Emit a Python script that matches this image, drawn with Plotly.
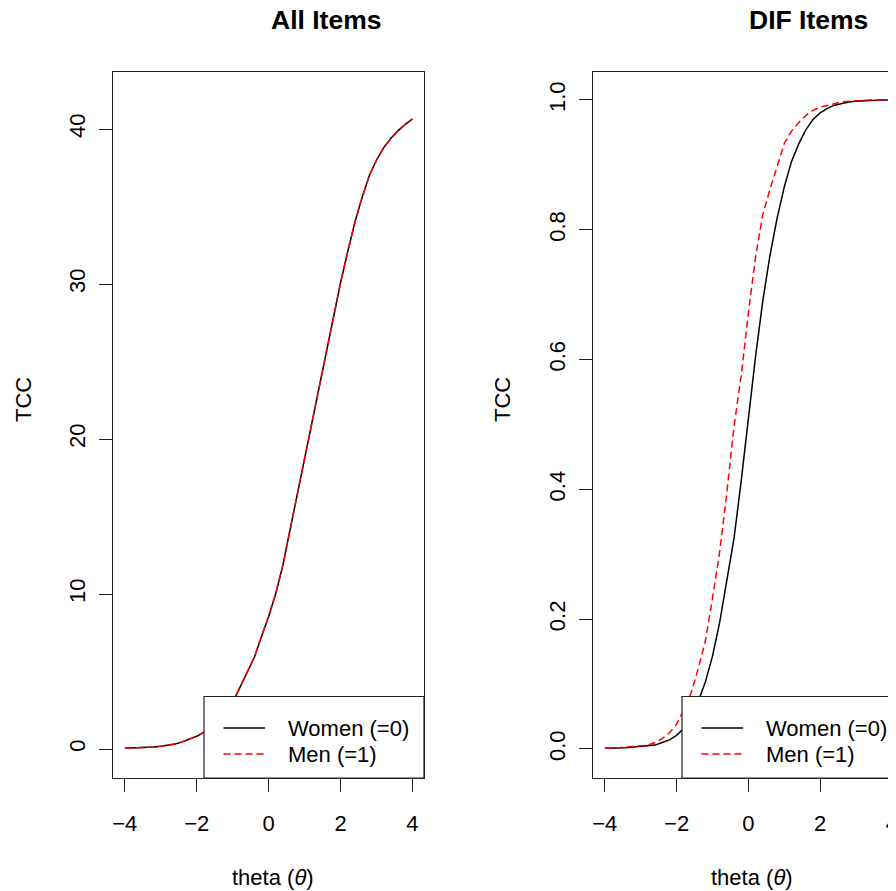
import plotly.graph_objects as go

# ---------------- data ----------------
theta = [-4.0, -3.8, -3.6, -3.4, -3.2, -3.0, -2.8, -2.6, -2.4, -2.2, -2.0,
         -1.8, -1.6, -1.4, -1.2, -1.0, -0.8, -0.6, -0.4, -0.2, 0.0,
         0.2, 0.4, 0.6, 0.8, 1.0, 1.2, 1.4, 1.6, 1.8, 2.0,
         2.2, 2.4, 2.6, 2.8, 3.0, 3.2, 3.4, 3.6, 3.8, 4.0]

all_women = [0.05, 0.06, 0.08, 0.10, 0.13, 0.18, 0.24, 0.33, 0.46, 0.62, 0.82,
             1.08, 1.45, 1.90, 2.40, 3.00, 3.95, 4.85, 5.90, 7.25, 8.55,
             10.05, 11.90, 14.20, 16.45, 18.75, 21.05, 23.30, 25.60, 27.90, 30.10,
             32.10, 34.00, 35.60, 37.00, 38.00, 38.80, 39.40, 39.90, 40.30, 40.65]

all_men = [0.05, 0.06, 0.08, 0.10, 0.13, 0.18, 0.24, 0.33, 0.46, 0.63, 0.83,
           1.09, 1.46, 1.91, 2.42, 3.02, 3.96, 4.87, 5.92, 7.27, 8.57,
           10.07, 11.91, 14.20, 16.45, 18.74, 21.04, 23.29, 25.59, 27.89, 30.09,
           32.09, 33.99, 35.59, 36.99, 37.99, 38.79, 39.39, 39.89, 40.29, 40.64]

dif_women = [0.001, 0.001, 0.002, 0.002, 0.003, 0.004, 0.005, 0.006, 0.010, 0.014, 0.021,
             0.032, 0.050, 0.073, 0.103, 0.143, 0.195, 0.257, 0.325, 0.413, 0.510,
             0.605, 0.690, 0.760, 0.818, 0.866, 0.905, 0.932, 0.954, 0.970, 0.980,
             0.987, 0.992, 0.995, 0.997, 0.998, 0.999, 0.999, 0.9995, 1.0, 1.0]

dif_men = [0.001, 0.001, 0.002, 0.003, 0.004, 0.005, 0.006, 0.010, 0.016, 0.025, 0.038,
           0.060, 0.086, 0.123, 0.166, 0.232, 0.304, 0.395, 0.497, 0.575, 0.672,
           0.758, 0.823, 0.862, 0.898, 0.933, 0.952, 0.965, 0.976, 0.984, 0.989,
           0.992, 0.995, 0.997, 0.998, 0.999, 0.999, 1.0, 1.0, 1.0, 1.0]

x_ticks = [-4, -2, 0, 2, 4]
y_ticks_all = [0, 10, 20, 30, 40]
y_ticks_dif = [0.0, 0.2, 0.4, 0.6, 0.8, 1.0]
y_ticktext_dif = ["0.0", "0.2", "0.4", "0.6", "0.8", "1.0"]

panel_titles = ["All Items", "DIF Items"]
legend_labels = ["Women (=0)", "Men (=1)"]
x_title = "theta (<i>θ</i>)"
y_title = "TCC"

# ---------------- layout helpers ----------------
# The page body has an 8px margin, so the figure is sized to end exactly at the window edge
OFF = 8
WIN_W, WIN_H = 896, 891
W, H = WIN_W - OFF, WIN_H - OFF
FONT = "Liberation Sans, Arial, Helvetica, sans-serif"
AX = "#222222"


def px(x):
    return (x - OFF) / W


def py(y):
    return 1 - (y - OFF) / H


BOX_TOP, BOX_BOT = 72, 778
L_LEFT, L_RIGHT = 113.3, 424.0
R_LEFT = 593.3
PX_PER_UNIT = 35.9

fig = go.Figure()

fig.add_trace(go.Scatter(x=theta, y=all_women, mode="lines", xaxis="x", yaxis="y",
                         line=dict(color="black", width=1.5), showlegend=False))
fig.add_trace(go.Scatter(x=theta, y=all_men, mode="lines", xaxis="x", yaxis="y",
                         line=dict(color="#ff0000", width=1.5, dash="7px,4px"), showlegend=False))
fig.add_trace(go.Scatter(x=theta, y=dif_women, mode="lines", xaxis="x2", yaxis="y2",
                         line=dict(color="black", width=1.5), showlegend=False))
fig.add_trace(go.Scatter(x=theta, y=dif_men, mode="lines", xaxis="x2", yaxis="y2",
                         line=dict(color="#ff0000", width=1.5, dash="7px,4px"), showlegend=False))

tickfont = dict(family=FONT, size=22, color="black")
common_x = dict(showgrid=False, zeroline=False, showline=True, linecolor=AX, linewidth=1.2,
                ticks="outside", ticklen=13, tickwidth=1.2, tickcolor=AX,
                tickvals=x_ticks, tickfont=tickfont, automargin=False,
                ticklabelstandoff=12, ticklabeloverflow="allow")
common_y = dict(showgrid=False, zeroline=False, showline=True, linecolor=AX, linewidth=1.2,
                ticks="outside", ticklen=13, tickwidth=1.2, tickcolor=AX,
                tickfont=tickfont, tickangle=-90, automargin=False,
                ticklabelstandoff=5, ticklabeloverflow="allow")

ydom = [py(BOX_BOT), py(BOX_TOP)]

fig.update_layout(
    width=W, height=H, template="none",
    margin=dict(l=0, r=0, t=0, b=0, pad=0),
    paper_bgcolor="white", plot_bgcolor="white",
    showlegend=False,
    xaxis=dict(common_x, domain=[px(L_LEFT), px(L_RIGHT)], range=[-4.32, 4.32],
               anchor="y", mirror=True),
    yaxis=dict(common_y, domain=ydom, range=[-1.87, 43.68], tickvals=y_ticks_all,
               anchor="x", mirror=True),
    xaxis2=dict(common_x, domain=[px(R_LEFT), 1.0],
                range=[-4.32, -4.32 + (WIN_W - R_LEFT) / PX_PER_UNIT],
                anchor="y2", mirror=True),
    yaxis2=dict(common_y, domain=ydom, range=[-0.0447, 1.0431], tickvals=y_ticks_dif,
                ticktext=y_ticktext_dif, anchor="x2", mirror=False),
)

annotations = []
# panel titles
for title, cx in zip(panel_titles, [326, 808]):
    annotations.append(dict(text=f"<b>{title}</b>", x=px(cx), y=py(20), xref="paper", yref="paper",
                            showarrow=False, xanchor="center", yanchor="middle",
                            font=dict(family=FONT, size=26.5, color="black")))
# axis titles
for cx in [273, 752]:
    annotations.append(dict(text=x_title, x=px(cx), y=py(877), xref="paper", yref="paper",
                            showarrow=False, xanchor="center", yanchor="middle",
                            font=dict(family=FONT, size=22, color="black")))
for cx in [24, 503]:
    annotations.append(dict(text=y_title, x=px(cx), y=py(400), xref="paper", yref="paper",
                            showarrow=False, xanchor="center", yanchor="middle", textangle=-90,
                            font=dict(family=FONT, size=22, color="black")))

shapes = []
# legends (bottom-right of each panel)
for left in [204, 682]:
    shapes.append(dict(type="rect", xref="paper", yref="paper", layer="above",
                       x0=px(left), x1=px(left + 220), y0=py(BOX_BOT), y1=py(696.5),
                       line=dict(color=AX, width=1.2), fillcolor="white"))
    shapes.append(dict(type="line", xref="paper", yref="paper", layer="above",
                       x0=px(left + 19.5), x1=px(left + 61), y0=py(728), y1=py(728),
                       line=dict(color="black", width=1.5)))
    shapes.append(dict(type="line", xref="paper", yref="paper", layer="above",
                       x0=px(left + 19.5), x1=px(left + 61), y0=py(754), y1=py(754),
                       line=dict(color="#ff0000", width=1.5, dash="7px,4px")))
    for lab, yy in zip(legend_labels, [728, 754]):
        annotations.append(dict(text=lab, x=px(left + 82), y=py(yy), xref="paper", yref="paper",
                                showarrow=False, xanchor="left", yanchor="middle",
                                font=dict(family=FONT, size=22, color="black")))

fig.update_layout(annotations=annotations, shapes=shapes)

fig.write_html("out.html")
